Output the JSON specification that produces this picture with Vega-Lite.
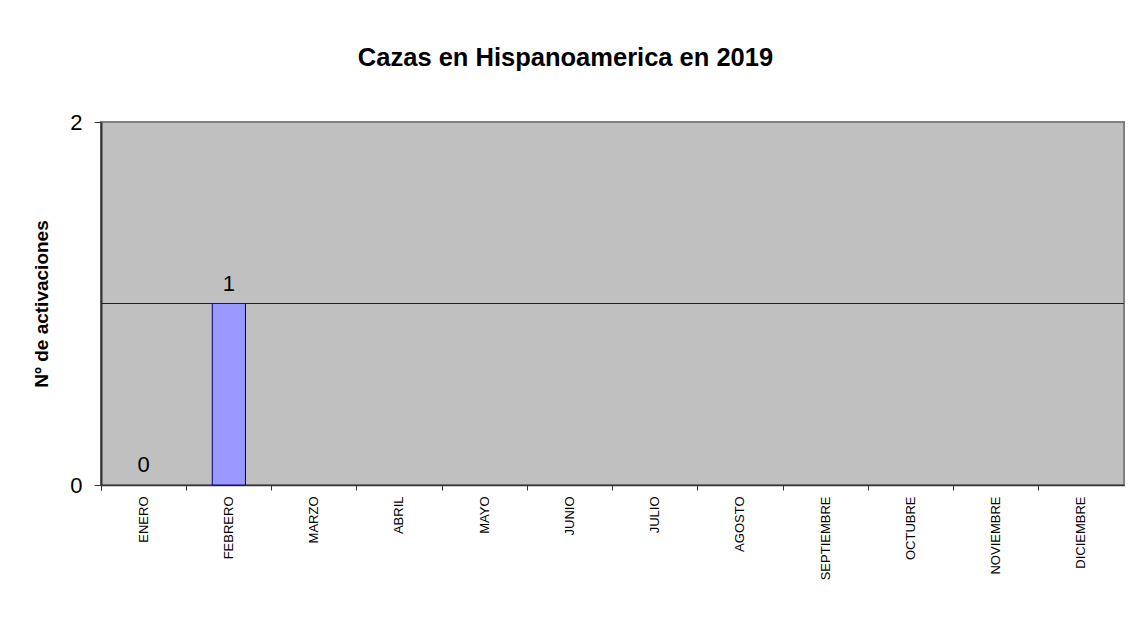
{
  "$schema": "https://vega.github.io/schema/vega-lite/v6.json",
  "width": 1023,
  "height": 363,
  "autosize": "none",
  "padding": {"left": 101, "top": 122, "right": 5, "bottom": 134},
  "background": "white",
  "title": {
    "text": "Cazas en Hispanoamerica en 2019",
    "font": "Liberation Sans",
    "fontSize": 25.5,
    "fontWeight": "bold",
    "color": "black",
    "anchor": "middle",
    "frame": "group",
    "dx": -47,
    "offset": 40
  },
  "data": {
    "values": [
      {"mes": "ENERO", "n": 0},
      {"mes": "FEBRERO", "n": 1},
      {"mes": "MARZO", "n": null},
      {"mes": "ABRIL", "n": null},
      {"mes": "MAYO", "n": null},
      {"mes": "JUNIO", "n": null},
      {"mes": "JULIO", "n": null},
      {"mes": "AGOSTO", "n": null},
      {"mes": "SEPTIEMBRE", "n": null},
      {"mes": "OCTUBRE", "n": null},
      {"mes": "NOVIEMBRE", "n": null},
      {"mes": "DICIEMBRE", "n": null}
    ]
  },
  "layer": [
    {
      "transform": [{"filter": "datum.n > 0"}],
      "mark": {"type": "bar", "fill": "#9999FF", "stroke": "#000080", "strokeWidth": 1, "width": {"band": 0.39}},
      "encoding": {
        "x": {
          "field": "mes",
          "type": "nominal",
          "sort": null,
          "scale": {
            "domain": ["ENERO", "FEBRERO", "MARZO", "ABRIL", "MAYO", "JUNIO", "JULIO", "AGOSTO", "SEPTIEMBRE", "OCTUBRE", "NOVIEMBRE", "DICIEMBRE"],
            "paddingInner": 0,
            "paddingOuter": 0
          },
          "axis": {
            "title": null,
            "labelAngle": 270,
            "labelAlign": "right",
            "labelBaseline": "middle",
            "labelFont": "Liberation Sans",
            "labelFontSize": 13,
            "labelColor": "black",
            "labelPadding": 6,
            "bandPosition": 0,
            "tickExtra": true,
            "tickSize": 5,
            "tickColor": "#333333",
            "domainColor": "#333333",
            "domainWidth": 1.5,
            "grid": false
          }
        },
        "y": {
          "field": "n",
          "type": "quantitative",
          "scale": {"domain": [0, 2], "nice": false},
          "axis": {
            "title": "Nº de activaciones",
            "titleFont": "Liberation Sans",
            "titleFontSize": 19,
            "titleFontWeight": "bold",
            "titleColor": "black",
            "titlePadding": 18,
            "values": [0, 1, 2],
            "format": "d",
            "labelFont": "Liberation Sans",
            "labelFontSize": 22,
            "labelColor": "black",
            "labelPadding": 12,
            "tickSize": 7,
            "tickColor": "#333333",
            "domainColor": "#333333",
            "domainWidth": 2,
            "grid": false
          }
        }
      }
    },
    {
      "mark": {"type": "rule", "color": "#222222", "strokeWidth": 1.2},
      "encoding": {"y": {"datum": 1, "type": "quantitative"}}
    },
    {
      "transform": [{"filter": "isValid(datum.n)"}],
      "mark": {"type": "text", "font": "Liberation Sans", "fontSize": 22, "color": "black", "baseline": "bottom", "dy": -8},
      "encoding": {
        "x": {"field": "mes", "type": "nominal", "sort": null},
        "y": {"field": "n", "type": "quantitative"},
        "text": {"field": "n", "type": "quantitative"}
      }
    }
  ],
  "config": {
    "view": {"fill": "#C0C0C0", "stroke": "#808080", "strokeWidth": 2}
  }
}
